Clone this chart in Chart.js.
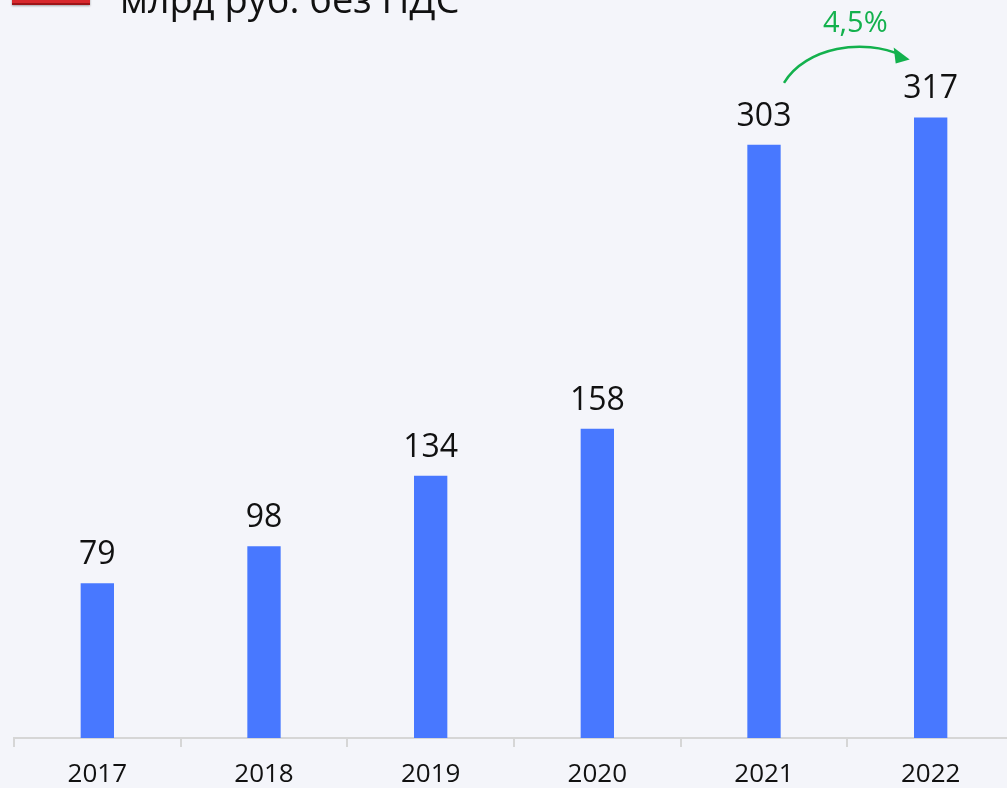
<!DOCTYPE html>
<html>
<head>
<meta charset="utf-8">
<script src="https://cdn.jsdelivr.net/npm/chart.js@4"></script>
<style>
  html, body { margin: 0; padding: 0; background: #f4f5fa; overflow: hidden; }
  #wrap { position: relative; width: 1007px; height: 788px; overflow: hidden; }
  #icon { position: absolute; left: 12px; top: -30px; width: 78px; height: 33px; background: #d8282d; border-bottom: 2px solid #9e1418; box-shadow: 0 1px 2px rgba(0,0,0,0.35); }
  #title { position: absolute; left: 120px; top: -22px; font: 38px "Open Sans", sans-serif; line-height: 40px; color: #111; white-space: nowrap; }
  #box { position: absolute; left: 0; top: 0; width: 1014px; height: 788px; }
</style>
</head>
<body>
<div id="wrap">
  <div id="box"><canvas id="salesChart"></canvas></div>
  <div id="icon"></div>
  <div id="title">млрд руб. без НДС</div>
</div>
<script>
const years = ['2017', '2018', '2019', '2020', '2021', '2022'];
const revenue = [79, 98, 134, 158, 303, 317];
const growthLabel = '4,5%';

// value labels above bars + growth arrow between the last two bars
const barLabels = {
    id: 'barLabels',
    afterDatasetsDraw(chart) {
        const ctx = chart.ctx;
        const bars = chart.getDatasetMeta(0).data;
        ctx.save();
        ctx.fillStyle = '#111';
        ctx.font = '32px "Open Sans", sans-serif';
        ctx.textAlign = 'center';
        ctx.textBaseline = 'alphabetic';
        bars.forEach((bar, i) => {
            ctx.fillText(revenue[i], bar.x, bar.y - 19);
        });

        const a = bars[4], b = bars[5];
        const x0 = a.x + 20, y0 = a.y - 62;
        const x1 = b.x - 23, y1 = b.y - 59;
        ctx.strokeStyle = '#13b14d';
        ctx.fillStyle = '#13b14d';
        ctx.lineWidth = 2.5;
        ctx.beginPath();
        ctx.moveTo(x0, y0);
        ctx.bezierCurveTo(x0 + 22, y0 - 36, x0 + 80, y0 - 45, x1 - 6, y1 - 3);
        ctx.stroke();
        // arrow head
        ctx.beginPath();
        ctx.moveTo(x1 + 2, y1 + 1);
        ctx.lineTo(x1 - 14, y1 - 11);
        ctx.lineTo(x1 - 12, y1 + 5);
        ctx.closePath();
        ctx.fill();

        ctx.font = '29px "Open Sans", sans-serif';
        ctx.fillText(growthLabel, (a.x + b.x) / 2 + 8, 32);
        ctx.restore();
    }
};

new Chart(document.getElementById('salesChart'), {
    type: 'bar',
    data: {
        labels: years,
        datasets: [{
            data: revenue,
            backgroundColor: '#4878ff',
            barPercentage: 0.2,
            categoryPercentage: 1
        }]
    },
    options: {
        responsive: true,
        maintainAspectRatio: false,
        animation: false,
        layout: { padding: { left: 14, right: 0, top: 0, bottom: 0 } },
        plugins: { legend: { display: false }, tooltip: { enabled: false } },
        scales: {
            x: {
                offset: true,
                grid: { offset: true, drawOnChartArea: false, color: '#d6d6d6', lineWidth: 2, tickLength: 9 },
                border: { color: '#d6d6d6', width: 2 },
                ticks: { color: '#111', padding: 12, font: { family: 'Open Sans', size: 26 } },
                afterFit(scale) { scale.height = 50; }
            },
            y: { display: false, min: 0, max: 377 }
        }
    },
    plugins: [barLabels]
});
</script>
</body>
</html>
